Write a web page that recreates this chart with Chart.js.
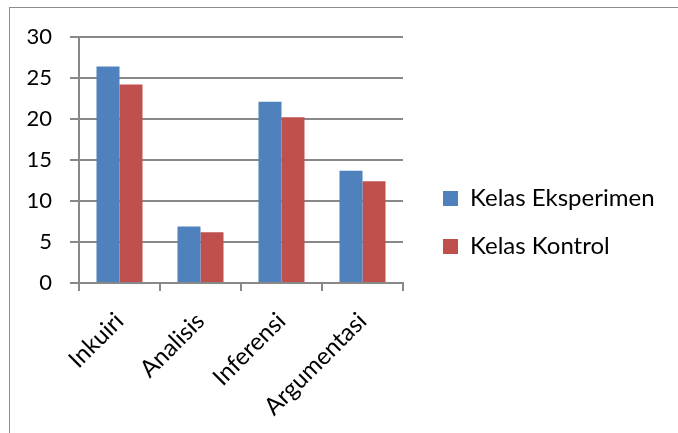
<!DOCTYPE html>
<html>
<head>
<meta charset="utf-8">
<script src="https://cdn.jsdelivr.net/npm/chart.js@4"></script>
<style>
  html, body { margin: 0; padding: 0; background: #fff; overflow: hidden; }
  #frame { position: absolute; left: 9px; top: 7px; width: 700px; height: 460px;
           border-top: 1px solid #8c8c8c; border-left: 1px solid #8c8c8c; }
  #myChart { position: absolute; left: 0; top: 0; }
</style>
</head>
<body>
<div id="frame"></div>
<canvas id="myChart" width="678" height="445"></canvas>
<script>
// data
const categories = ['Inkuiri', 'Analisis', 'Inferensi', 'Argumentasi'];
const eksperimen = [26.4, 6.9, 22.1, 13.7];
const kontrol = [24.2, 6.2, 20.2, 12.4];
const seriesNames = ['Kelas Eksperimen', 'Kelas Kontrol'];
const yTicks = [0, 5, 10, 15, 20, 25, 30];

const gridColor = '#888888';
const fontFamily = 'Lato, "Open Sans", sans-serif';

// plot box inside the canvas
const plotTop = 37;
const plotLeft = 79;
const plotRight = 403;
const plotBottom = 283;
const legendLeft = 419;

const data = {
    labels: categories,
    datasets: [{
        label: seriesNames[0],
        data: eksperimen,
        backgroundColor: '#4F81BD'
    }, {
        label: seriesNames[1],
        data: kontrol,
        backgroundColor: '#C0504D'
    }]
};

// axis with nothing drawn, only takes up room
function spacer(position, size) {
    return {
        position: position,
        grid: { display: false },
        border: { display: false },
        ticks: { display: false },
        afterFit: function (scale) {
            let s = typeof size === 'function' ? size(scale) : size;
            if (position === 'top' || position === 'bottom') {
                scale.height = s;
            } else {
                scale.width = s;
            }
        }
    };
}

const options = {
    responsive: false,
    animation: false,
    devicePixelRatio: 1,
    categoryPercentage: 0.568,
    barPercentage: 1,
    layout: {
        padding: 0
    },
    plugins: {
        tooltip: { enabled: false },
        legend: {
            position: 'right',
            maxWidth: 400,
            labels: {
                boxWidth: 15,
                boxHeight: 15,
                padding: 24,
                color: '#000',
                font: { family: fontFamily, size: 24 }
            }
        }
    },
    scales: {
        x: {
            grid: {
                drawOnChartArea: false,
                drawTicks: true,
                tickLength: 8,
                color: gridColor,
                lineWidth: 2
            },
            border: { color: gridColor, width: 2 },
            ticks: {
                minRotation: 45,
                maxRotation: 45,
                color: '#000',
                padding: 16,
                font: { family: fontFamily, size: 24 }
            },
            afterFit: function (scale) {
                scale.height = scale.chart.height - plotBottom;
            }
        },
        y: {
            min: 0,
            max: 30,
            afterBuildTicks: function (scale) {
                scale.ticks = yTicks.map(v => ({ value: v }));
            },
            grid: {
                color: gridColor,
                lineWidth: 2,
                tickLength: 9
            },
            border: { color: gridColor, width: 2 },
            ticks: {
                padding: 18,
                color: '#000',
                font: { family: fontFamily, size: 22 }
            },
            afterFit: function (scale) {
                scale.width = plotLeft;
            }
        },
        topGap: spacer('top', plotTop),
        // between plot and legend
        legendGap: spacer('right', legendLeft - plotRight),
        // outside the legend, at the right edge
        edgeGap: Object.assign(spacer('right', function (scale) {
            return scale.chart.width - scale.chart.legend.width - legendLeft;
        }), { weight: 2000 })
    }
};

const config = {
    type: 'bar',
    data: data,
    options: options
};

window.onload = function () {
    new Chart(document.getElementById('myChart'), config);
};
</script>
</body>
</html>
